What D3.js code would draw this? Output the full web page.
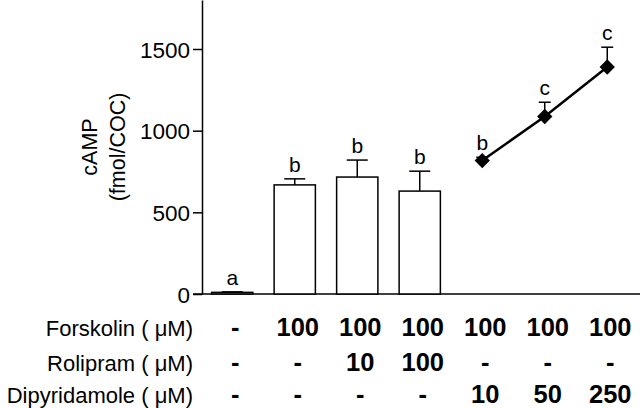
<!DOCTYPE html>
<html>
<head>
<meta charset="utf-8">
<script src="https://cdn.jsdelivr.net/npm/d3@7"></script>
<style>
  html, body { margin: 0; padding: 0; background: #fff; }
  svg { display: block; font-family: "Liberation Sans", Arial, sans-serif; }
</style>
</head>
<body>
<svg id="chart" width="640" height="408"></svg>
<script>
"use strict";

// ── Data ─────────────────────────────────────────────────────────────
const groups    = ["ctrl", "fsk", "fsk_rol10", "fsk_rol100", "fsk_dip10", "fsk_dip50", "fsk_dip250"];
const means     = [10, 668, 716, 630, 817, 1087, 1390];
const errors    = [3, 37, 104, 122, 20, 87, 121];
const letters   = ["a", "b", "b", "b", "b", "c", "c"];
const barGroups  = ["ctrl", "fsk", "fsk_rol10", "fsk_rol100"];
const lineGroups = ["fsk_dip10", "fsk_dip50", "fsk_dip250"];
const yTicks    = [0, 500, 1000, 1500];

const rowLabels    = ["Forskolin", "Rolipram", "Dipyridamole"];
const forskolin    = ["-", "100", "100", "100", "100", "100", "100"];
const rolipram     = ["-", "-", "10", "100", "-", "-", "-"];
const dipyridamole = ["-", "-", "-", "-", "10", "50", "250"];

// ── Setup ────────────────────────────────────────────────────────────
const svg = d3.select("#chart");
const x0 = 202, yBase = 294;

const x = d3.scaleBand().domain(groups).range([x0 - 1, 638.5]).paddingInner(0.34).paddingOuter(0.17);
const y = d3.scaleLinear().domain([0, 1800]).range([yBase, 0]);
const cx = g => x(g) + x.bandwidth() / 2;

const rows = groups.map((g, i) => ({ g, m: means[i], e: errors[i], l: letters[i] }));
const bars = rows.filter(d => barGroups.includes(d.g));
const pts  = rows.filter(d => lineGroups.includes(d.g));

// Axes
svg.append("line")
  .attr("x1", x0 - 9).attr("x2", 640)
  .attr("y1", yBase).attr("y2", yBase)
  .attr("stroke", "#000").attr("stroke-width", 1.5);

const yAxis = svg.append("g")
  .attr("transform", `translate(${x0},0)`)
  .call(d3.axisLeft(y).tickValues(yTicks).tickFormat(d3.format("d"))
    .tickSize(9).tickPadding(3).tickSizeOuter(0));
yAxis.select(".domain").attr("stroke-width", 1.5);
yAxis.selectAll(".tick line").attr("stroke-width", 1.5);
yAxis.selectAll(".tick text")
  .attr("font-size", 22.5).attr("font-family", "Liberation Sans, Arial, sans-serif")
  .attr("fill", "#000").attr("dy", "0.36em");

// Y title
const yTitle = svg.append("text")
  .attr("transform", `translate(0,${yBase / 2}) rotate(-90)`)
  .attr("text-anchor", "middle").attr("font-size", 21.5);
yTitle.append("tspan").attr("x", 0).attr("y", 97).text("cAMP");
yTitle.append("tspan").attr("x", 0).attr("y", 125).text("(fmol/COC)");

// ── Error bars ───────────────────────────────────────────────────────
function errBar(sel, capW) {
  sel.append("line")
    .attr("x1", d => cx(d.g)).attr("x2", d => cx(d.g))
    .attr("y1", d => y(d.m)).attr("y2", d => y(d.m + d.e))
    .attr("stroke", "#000").attr("stroke-width", 1.5);
  sel.append("line")
    .attr("x1", d => cx(d.g) - capW / 2).attr("x2", d => cx(d.g) + capW / 2)
    .attr("y1", d => y(d.m + d.e)).attr("y2", d => y(d.m + d.e))
    .attr("stroke", "#000").attr("stroke-width", 1.5);
}

// ── Bars ─────────────────────────────────────────────────────────────
const barG = svg.append("g").selectAll("g").data(bars).join("g");
errBar(barG, 21);
barG.append("rect")
  .attr("x", d => x(d.g)).attr("width", x.bandwidth())
  .attr("y", d => y(d.m)).attr("height", d => yBase - y(d.m))
  .attr("fill", "#fff").attr("stroke", "#000").attr("stroke-width", 1.5);

// ── Line + diamonds ──────────────────────────────────────────────────
const ptG = svg.append("g").selectAll("g").data(pts).join("g");
errBar(ptG, 12);
svg.append("path")
  .datum(pts)
  .attr("d", d3.line().x(d => cx(d.g)).y(d => y(d.m)))
  .attr("fill", "none").attr("stroke", "#000").attr("stroke-width", 2.5);
svg.append("g").selectAll("path").data(pts).join("path")
  .attr("transform", d => `translate(${cx(d.g)},${y(d.m)})`)
  .attr("d", d3.symbol(d3.symbolDiamond2, 150)())
  .attr("fill", "#000");

// ── Significance letters ─────────────────────────────────────────────
svg.append("g").selectAll("text").data(rows).join("text")
  .attr("x", d => cx(d.g))
  .attr("y", d => y(d.m + d.e) - 7)
  .attr("text-anchor", "middle").attr("font-size", 21)
  .text(d => d.l);

// ── Treatment table ──────────────────────────────────────────────────
const tableRows = [forskolin, rolipram, dipyridamole];
const rowY = [336, 371, 403];
tableRows.forEach((vals, r) => {
  const lab = svg.append("text")
    .attr("x", 193).attr("y", rowY[r])
    .attr("text-anchor", "end").attr("font-size", 22);
  lab.append("tspan").text(rowLabels[r] + " ( ");
  lab.append("tspan").text("μ");
  lab.append("tspan").text("M)");
  svg.append("g").selectAll("text").data(vals).join("text")
    .attr("x", (v, i) => cx(groups[i]) + 3)
    .attr("y", rowY[r])
    .attr("text-anchor", "middle").attr("font-size", 25.5).attr("font-weight", "bold")
    .text(v => v);
});
</script>
</body>
</html>
